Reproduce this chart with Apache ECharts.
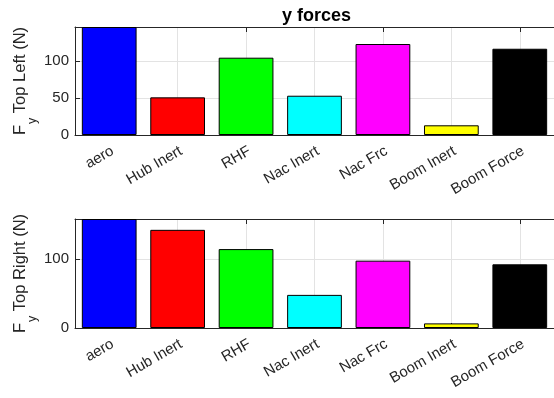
<!DOCTYPE html>
<html>
<head>
<meta charset="utf-8">
<script src="https://cdn.jsdelivr.net/npm/echarts@6/dist/echarts.min.js"></script>
<style>
  html, body { margin: 0; padding: 0; background: #fff; }
  #chart { width: 554px; height: 398px; }
</style>
</head>
<body>
<div id="chart"></div>
<script>
// Force components, shared by both panels
const categories = ['aero', 'Hub Inert', 'RHF', 'Nac Inert', 'Nac Frc', 'Boom Inert', 'Boom Force'];
const barColors = ['#0000ff', '#ff0000', '#00ff00', '#00ffff', '#ff00ff', '#ffff00', '#000000'];

// F_y per component (N)
const topLeftValues = [146, 50.9, 104.5, 53.1, 123, 13.1, 116.6];
const topRightValues = [158, 142.3, 114.4, 48, 97.6, 6.7, 92.3];

const topLeftTicks = 50;
const topRightTicks = 100;

const ink = '#262626';
const gridInk = '#e3e3e3';
const font = 'Liberation Sans, Arial, Helvetica, sans-serif';

const chart = echarts.init(document.getElementById('chart'));

function panelAxes(gridIndex) {
  const bottom = {
    type: 'category', gridIndex, position: 'bottom', data: categories,
    boundaryGap: true,
    axisLine: { show: true, lineStyle: { color: ink, width: 1 } },
    axisTick: { show: true, inside: true, length: 5, alignWithLabel: true, lineStyle: { color: ink } },
    splitLine: { show: true, alignWithLabel: true, lineStyle: { color: gridInk, width: 1 } },
    axisLabel: {
      interval: 0, rotate: 30, margin: 17, padding: [18, -4, 0, 0],
      color: ink, fontSize: 15, fontFamily: font
    }
  };
  const top = {
    type: 'category', gridIndex, position: 'top', data: categories,
    boundaryGap: true,
    axisLine: { show: true, lineStyle: { color: ink, width: 1 } },
    axisTick: { show: true, inside: true, length: 5, alignWithLabel: true, lineStyle: { color: ink } },
    splitLine: { show: false },
    axisLabel: { show: false }
  };
  return [bottom, top];
}

function yAxis(gridIndex, values, interval, label) {
  return {
    type: 'value', gridIndex, min: 0, max: Math.max(...values), interval,
    name: '{f|F}{s|y}{t| ' + label + '}',
    nameLocation: 'middle', nameRotate: 90, nameGap: 43, nameMoveOverlap: false,
    nameTextStyle: {
      color: ink, fontFamily: font,
      rich: {
        f: { fontSize: 16.5, lineHeight: 20, verticalAlign: 'top', color: ink, fontFamily: font },
        s: { fontSize: 12.5, lineHeight: 12.5, verticalAlign: 'top', padding: [14.5, 0, 0, 1], color: ink, fontFamily: font },
        t: { fontSize: 16.5, lineHeight: 20, verticalAlign: 'top', color: ink, fontFamily: font }
      }
    },
    axisLine: { show: true, lineStyle: { color: ink, width: 1 } },
    axisTick: { show: true, inside: true, length: 5, lineStyle: { color: ink } },
    splitLine: { show: true, lineStyle: { color: gridInk, width: 1 } },
    axisLabel: { color: ink, fontSize: 15, fontFamily: font, margin: 6, showMaxLabel: false }
  };
}

function barSeries(xAxisIndex, yAxisIndex, values) {
  return {
    type: 'bar', xAxisIndex, yAxisIndex, barWidth: '80%',
    data: values.map((v, i) => ({
      value: v,
      itemStyle: { color: barColors[i], borderColor: '#000', borderWidth: 1 }
    })),
    silent: true, animation: false
  };
}

chart.setOption({
  animation: false,
  title: {
    text: 'y forces', left: 277, top: 2,
    textStyle: { fontSize: 18, fontWeight: 'bold', color: '#000', fontFamily: font }
  },
  grid: [
    { left: 75, top: 27, width: 484, height: 108 },
    { left: 75, top: 219, width: 484, height: 109 }
  ],
  xAxis: [...panelAxes(0), ...panelAxes(1)],
  yAxis: [
    yAxis(0, topLeftValues, topLeftTicks, 'Top Left (N)'),
    yAxis(1, topRightValues, topRightTicks, 'Top Right (N)')
  ],
  series: [
    barSeries(0, 0, topLeftValues),
    barSeries(2, 1, topRightValues)
  ]
});
</script>
</body>
</html>
